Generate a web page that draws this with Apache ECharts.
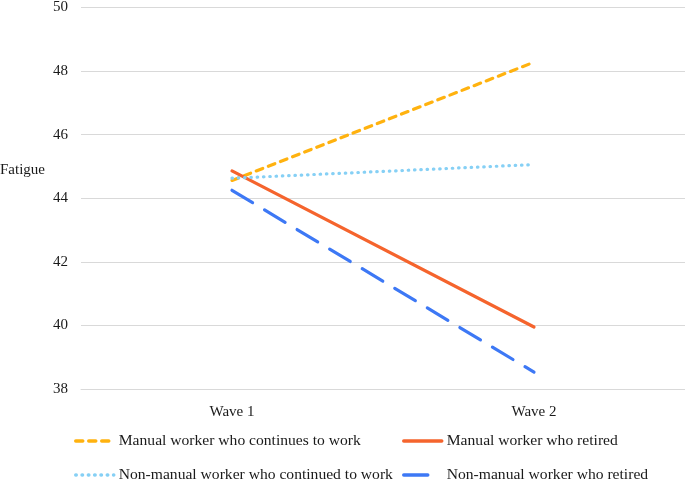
<!DOCTYPE html>
<html>
<head>
<meta charset="utf-8">
<style>html,body{margin:0;padding:0;background:#fff}#c{width:685px;height:481px}</style>
<script src="https://cdn.jsdelivr.net/npm/echarts@6/dist/echarts.min.js"></script>
</head>
<body>
<div id="c"></div>
<script>
var categories = ['Wave 1', 'Wave 2'];
var seriesNames = [
  'Manual worker who continues to work',
  'Manual worker who retired',
  'Non-manual worker who continued to work',
  'Non-manual worker who retired'
];
var manualContinue = [44.56, 48.28];
var manualRetired = [44.86, 39.95];
var nonManualContinue = [44.63, 45.06];
var nonManualRetired = [44.25, 38.53];
var yTicks = {min: 38, max: 50, interval: 2};

var font = 'Liberation Serif, Times New Roman, serif';
var chart = echarts.init(document.getElementById('c'), null, {renderer: 'canvas'});
function ser(name, data, color, dash) {
  return {
    name: name, type: 'line', data: data, symbol: 'none', showSymbol: false,
    lineStyle: {color: color, width: 3.2, type: dash, cap: 'round'},
    itemStyle: {color: color}, animation: false
  };
}
function legendText() { return {fontFamily: font, fontSize: 15.6, color: '#1a1a1a'}; }
chart.setOption({
  animation: false,
  textStyle: {fontFamily: font},
  title: {text: 'Fatigue', left: 0, top: 163, padding: 0,
    textStyle: {fontFamily: font, fontSize: 15, fontWeight: 'normal', color: '#1a1a1a'}},
  grid: {left: 81, right: 0, top: 7, bottom: 92, containLabel: false},
  xAxis: {
    type: 'category', data: categories, boundaryGap: true,
    axisLine: {lineStyle: {color: '#d9d9d9', width: 1}},
    axisTick: {show: false},
    axisLabel: {fontFamily: font, fontSize: 15, color: '#1a1a1a', margin: 16}
  },
  yAxis: {
    type: 'value', min: yTicks.min, max: yTicks.max, interval: yTicks.interval,
    axisLine: {show: false}, axisTick: {show: false},
    splitLine: {lineStyle: {color: '#d9d9d9', width: 1}},
    axisLabel: {fontFamily: font, fontSize: 15, color: '#1a1a1a', margin: 13}
  },
  legend: [
    {data: [seriesNames[0], seriesNames[2]], orient: 'vertical', left: 74, top: 433,
     width: 320, height: 80, lineStyle: {width: 3.5, cap: 'round'},
     itemStyle: {opacity: 0}, itemWidth: 38, itemHeight: 14, itemGap: 18, itemTextGap: 6, padding: 0,
     textStyle: legendText()},
    {data: [seriesNames[1], seriesNames[3]], orient: 'vertical', left: 402, top: 433,
     width: 280, height: 80, lineStyle: {width: 3.5, cap: 'round'},
     itemStyle: {opacity: 0}, itemWidth: 38, itemHeight: 14, itemGap: 18, itemTextGap: 5, padding: 0,
     textStyle: legendText()}
  ],
  series: [
    ser(seriesNames[0], manualContinue, '#FFB20F', [7, 6]),
    ser(seriesNames[1], manualRetired, '#F5642D', 'solid'),
    ser(seriesNames[2], nonManualContinue, '#86D0F5', [0.5, 5.8]),
    ser(seriesNames[3], nonManualRetired, '#3D78F5', [24, 14])
  ]
});
</script>
</body>
</html>
